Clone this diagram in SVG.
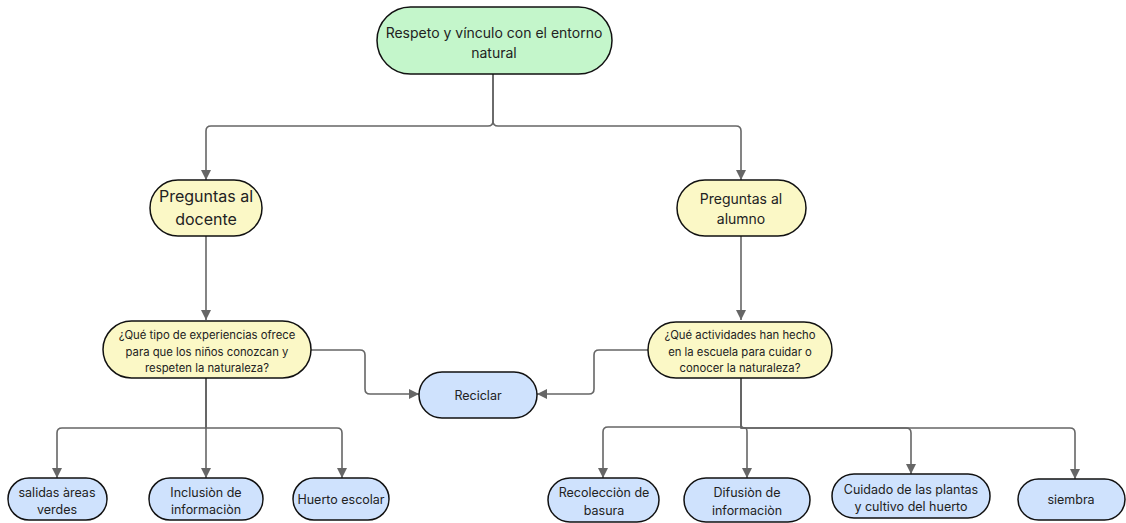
<svg xmlns="http://www.w3.org/2000/svg" width="1126" height="523" viewBox="0 0 1126 523">
<style>
.n{stroke:#111;stroke-width:1.5}
.g{fill:#c4f6cb}
.y{fill:#fbf8c6}
.b{fill:#cfe2fd}
text{font-family:Inter,"Liberation Sans",sans-serif;fill:#222;text-anchor:middle;dominant-baseline:central}
.c path{fill:none;stroke:#666;stroke-width:1.6;stroke-linejoin:round}
</style>
<defs>
<marker id="a" viewBox="0 0 10 10" refX="10" refY="5" markerWidth="10" markerHeight="10" markerUnits="userSpaceOnUse" orient="auto">
<path d="M0,0 L10,5 L0,10 z" fill="#666"/>
</marker>
</defs>
<rect width="1126" height="523" fill="#fff"/>
<g class="c">
<path d="M493,74 V121 Q493,126 488,126 H211 Q206,126 206,131 V180" marker-end="url(#a)"/>
<path d="M493,74 V121 Q493,126 498,126 H736 Q741,126 741,131 V180" marker-end="url(#a)"/>
<path d="M206,236 V320" marker-end="url(#a)"/>
<path d="M741,236 V320" marker-end="url(#a)"/>
<path d="M311,350 H360 Q365,350 365,355 V389 Q365,394 370,394 H419" marker-end="url(#a)"/>
<path d="M648,350 H599 Q594,350 594,355 V389 Q594,394 589,394 H537" marker-end="url(#a)"/>
<path d="M206,378 V428 H62 Q57,428 57,433 V478" marker-end="url(#a)"/>
<path d="M206,378 V478" marker-end="url(#a)"/>
<path d="M206,378 V428 H337 Q342,428 342,433 V478" marker-end="url(#a)"/>
<path d="M741,378 V427 H608 Q603,427 603,432 V478" marker-end="url(#a)"/>
<path d="M741,378 V424 Q741,428 745,428 Q747,428 747,432 V478" marker-end="url(#a)"/>
<path d="M741,378 V428 H906 Q911,428 911,433 V474" marker-end="url(#a)"/>
<path d="M741,378 V428 H1070 Q1075,428 1075,433 V479" marker-end="url(#a)"/>
</g>
<g id="root"><rect class="n g" x="377" y="7" width="235" height="67" rx="33.5"/>
<text x="494" y="32" font-size="14">Respeto y vínculo con el entorno</text>
<text x="494" y="52" font-size="14">natural</text></g>
<g id="docente"><rect class="n y" x="150" y="180" width="112" height="56" rx="28"/>
<text x="206" y="196" font-size="16">Preguntas al</text>
<text x="206" y="219" font-size="16">docente</text></g>
<g id="alumno"><rect class="n y" x="677" y="180" width="129" height="56" rx="28"/>
<text x="741" y="198" font-size="14">Preguntas al</text>
<text x="741" y="218" font-size="14">alumno</text></g>
<g id="q1"><rect class="n y" x="103" y="321" width="208" height="57" rx="28.5"/>
<text x="207" y="335" font-size="11.3">¿Qué tipo de experiencias ofrece</text>
<text x="207" y="352" font-size="11.3">para que los niños conozcan y</text>
<text x="207" y="368" font-size="11.3">respeten la naturaleza?</text></g>
<g id="q2"><rect class="n y" x="648" y="322" width="184" height="56" rx="28"/>
<text x="740" y="335" font-size="11.3">¿Qué actividades han hecho</text>
<text x="740" y="352" font-size="11.3">en la escuela para cuidar o</text>
<text x="740" y="368" font-size="11.3">conocer la naturaleza?</text></g>
<g id="reciclar"><rect class="n b" x="419" y="372" width="118" height="46" rx="23"/>
<text x="478" y="395" font-size="12.5">Reciclar</text></g>
<g id="salidas"><rect class="n b" x="8" y="478" width="99" height="42" rx="21"/>
<text x="57" y="492" font-size="12.5">salidas àreas</text>
<text x="57" y="509" font-size="12.5">verdes</text></g>
<g id="inclusion"><rect class="n b" x="149" y="478" width="114" height="42" rx="21"/>
<text x="206" y="492" font-size="12.5">Inclusiòn de</text>
<text x="206" y="509" font-size="12.5">informaciòn</text></g>
<g id="huerto"><rect class="n b" x="293" y="478" width="96" height="42" rx="21"/>
<text x="341" y="499" font-size="12.5">Huerto escolar</text></g>
<g id="recoleccion"><rect class="n b" x="548" y="478" width="111" height="44" rx="22"/>
<text x="604" y="492" font-size="12.5">Recolecciòn de</text>
<text x="604" y="510" font-size="12.5">basura</text></g>
<g id="difusion"><rect class="n b" x="684" y="478" width="126" height="44" rx="22"/>
<text x="747" y="492" font-size="12.5">Difusiòn de</text>
<text x="747" y="510" font-size="12.5">informaciòn</text></g>
<g id="cuidado"><rect class="n b" x="832" y="474" width="158" height="44" rx="22"/>
<text x="911" y="489" font-size="12.5">Cuidado de las plantas</text>
<text x="911" y="506" font-size="12.5">y cultivo del huerto</text></g>
<g id="siembra"><rect class="n b" x="1018" y="479" width="107" height="41" rx="20.5"/>
<text x="1071" y="499" font-size="12.5">siembra</text></g>
</svg>
